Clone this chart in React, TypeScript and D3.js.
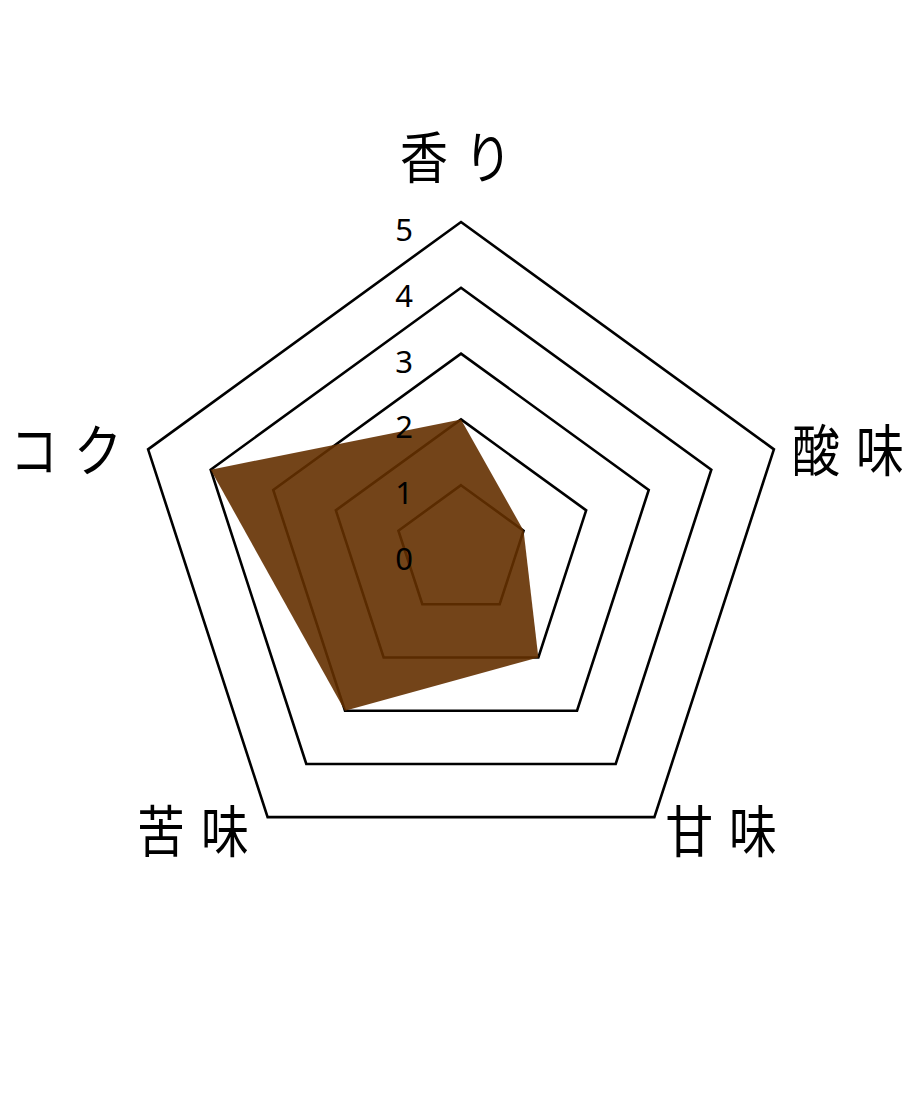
import React from "react";
import * as d3 from "d3";

const axes = ["香り", "酸味", "甘味", "苦味", "コク"];
const values = [2, 1, 2, 3, 4];
const ticks = [0, 1, 2, 3, 4, 5];
const rings = [1, 2, 3, 4, 5];

const W = 920;
const H = 1104;
const cx = 461;
const cy = 551;
const R = 329;

export default function App() {
  const r = d3.scaleLinear().domain([0, 5]).range([0, R]);
  const n = axes.length;
  const ang = (i: number) => (i * 2 * Math.PI) / n;

  const ringPath = (level: number) =>
    d3
      .lineRadial<number>()
      .angle((_, i) => ang(i))
      .radius(() => r(level))
      .curve(d3.curveLinearClosed)(axes.map(() => level)) || "";

  const dataPath =
    d3
      .lineRadial<number>()
      .angle((_, i) => ang(i))
      .radius((d) => r(d))
      .curve(d3.curveLinearClosed)(values) || "";

  const pad = 20;
  const labels = axes.map((t, i) => {
    const a = ang(i);
    const x = Math.sin(a) * (R + pad);
    const y = -Math.cos(a) * (R + pad);
    let anchor: "start" | "middle" | "end" = "middle";
    if (x > 1) anchor = "start";
    else if (x < -1) anchor = "end";
    const isTop = Math.abs(x) < 1 && y < 0;
    const isBottom = y > 1;
    return { t, x, y, anchor, isTop, isBottom };
  });

  return (
    <svg
      width={W}
      height={H}
      style={{ position: "absolute", left: 0, top: 0, background: "#fff" }}
    >
      <g transform={`translate(${cx},${cy})`}>
        {rings.map((lv) => (
          <path
            key={lv}
            d={ringPath(lv)}
            fill="none"
            stroke="#000"
            strokeWidth={2.6}
            strokeLinejoin="miter"
          />
        ))}
        <path d={dataPath} fill="rgb(100,48,0)" fillOpacity={0.9} stroke="none" />
        {ticks.map((k) => (
          <text
            key={k}
            x={-57}
            y={-r(k) + 19}
            textAnchor="middle"
            fontFamily="'Noto Sans', sans-serif"
            fontSize={31}
            fill="#000"
          >
            {k}
          </text>
        ))}
        {labels.map((l) => (
          <g
            key={l.t}
            transform={`translate(${l.x},${
              l.isTop ? l.y - 24 : l.isBottom ? l.y - 6 : l.y + 3
            }) scale(1,1.15)`}
          >
            <text
              x={l.anchor === "start" ? -1 : l.anchor === "end" ? -7 : -5}
              y={0}
              textAnchor={l.anchor}
              dominantBaseline={l.isTop ? "auto" : "central"}
              fontFamily="'Noto Sans CJK JP', sans-serif"
              fontSize={48}
              fill="#000"
            >
              {Array.from(l.t).map((c, j) => (
                <tspan key={j} dx={j === 0 ? 0 : 16}>
                  {c}
                </tspan>
              ))}
            </text>
          </g>
        ))}
      </g>
    </svg>
  );
}
